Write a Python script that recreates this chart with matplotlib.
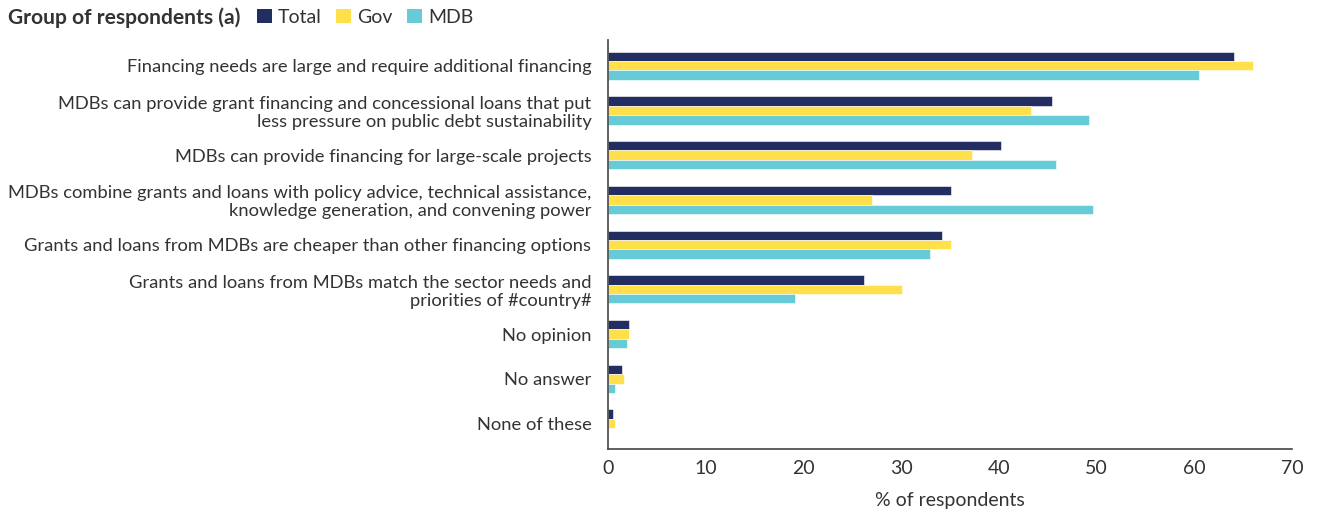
import numpy as np
from matplotlib import pyplot as plt
from matplotlib.patches import Patch

categories = [
    "Financing needs are large and require additional financing",
    "MDBs can provide grant financing and concessional loans that put\nless pressure on public debt sustainability",
    "MDBs can provide financing for large-scale projects",
    "MDBs combine grants and loans with policy advice, technical assistance,\nknowledge generation, and convening power",
    "Grants and loans from MDBs are cheaper than other financing options",
    "Grants and loans from MDBs match the sector needs and\npriorities of #country#",
    "No opinion",
    "No answer",
    "None of these",
]
total = [64.1, 45.4, 40.2, 35.1, 34.2, 26.2, 2.1, 1.4, 0.55]
gov = [66.0, 43.3, 37.3, 27.0, 35.1, 30.1, 2.1, 1.6, 0.7]
mdb = [60.5, 49.2, 45.8, 49.6, 33.0, 19.1, 1.9, 0.7, 0.0]
series_names = ["Total", "Gov", "MDB"]
colors = ["#222d62", "#ffe04b", "#66cbd6"]

plt.rcParams['font.family'] = ['Lato', 'DejaVu Sans']
text_color = "#333333"

fig = plt.figure(figsize=(13.17, 5.15), dpi=100)
ax = fig.add_axes([0.4617, 0.128, 0.5193, 0.794])

y = np.arange(len(categories))
h = 0.21
for i, (vals, name, col) in enumerate(zip([total, gov, mdb], series_names, colors)):
    ax.barh(y + (i - 1) * h, vals, height=h, color=col, label=name,
            edgecolor="white", linewidth=0.4)

ax.set_ylim(len(categories) - 0.43, -0.57)
ax.set_xlim(0, 70)
ax.set_xticks(range(0, 71, 10))
ax.set_yticks(y)
ax.set_yticklabels(categories, fontsize=13.2, color=text_color, linespacing=1.15)
ax.tick_params(axis='y', length=0, pad=12)
ax.tick_params(axis='x', length=0, pad=8, labelsize=14, labelcolor=text_color)
ax.set_xlabel("% of respondents", fontsize=14, color=text_color, labelpad=11)
for side in ["top", "right"]:
    ax.spines[side].set_visible(False)
for side in ["left", "bottom"]:
    ax.spines[side].set_color("#444444")
    ax.spines[side].set_linewidth(1.2)

fig.text(0.006, 0.966, "Group of respondents (a)", fontsize=15.1, fontweight="bold",
         color=text_color, va="center")
handles = [Patch(facecolor=c, label=n) for c, n in zip(colors, series_names)]
fig.legend(handles=handles, loc="center left", bbox_to_anchor=(0.195, 0.966), ncol=3,
           frameon=False, fontsize=14, handlelength=0.77, handleheight=0.77,
           handletextpad=0.3, columnspacing=0.75, borderaxespad=0, borderpad=0,
           labelcolor=text_color)

fig.savefig("out.png", dpi=100)
